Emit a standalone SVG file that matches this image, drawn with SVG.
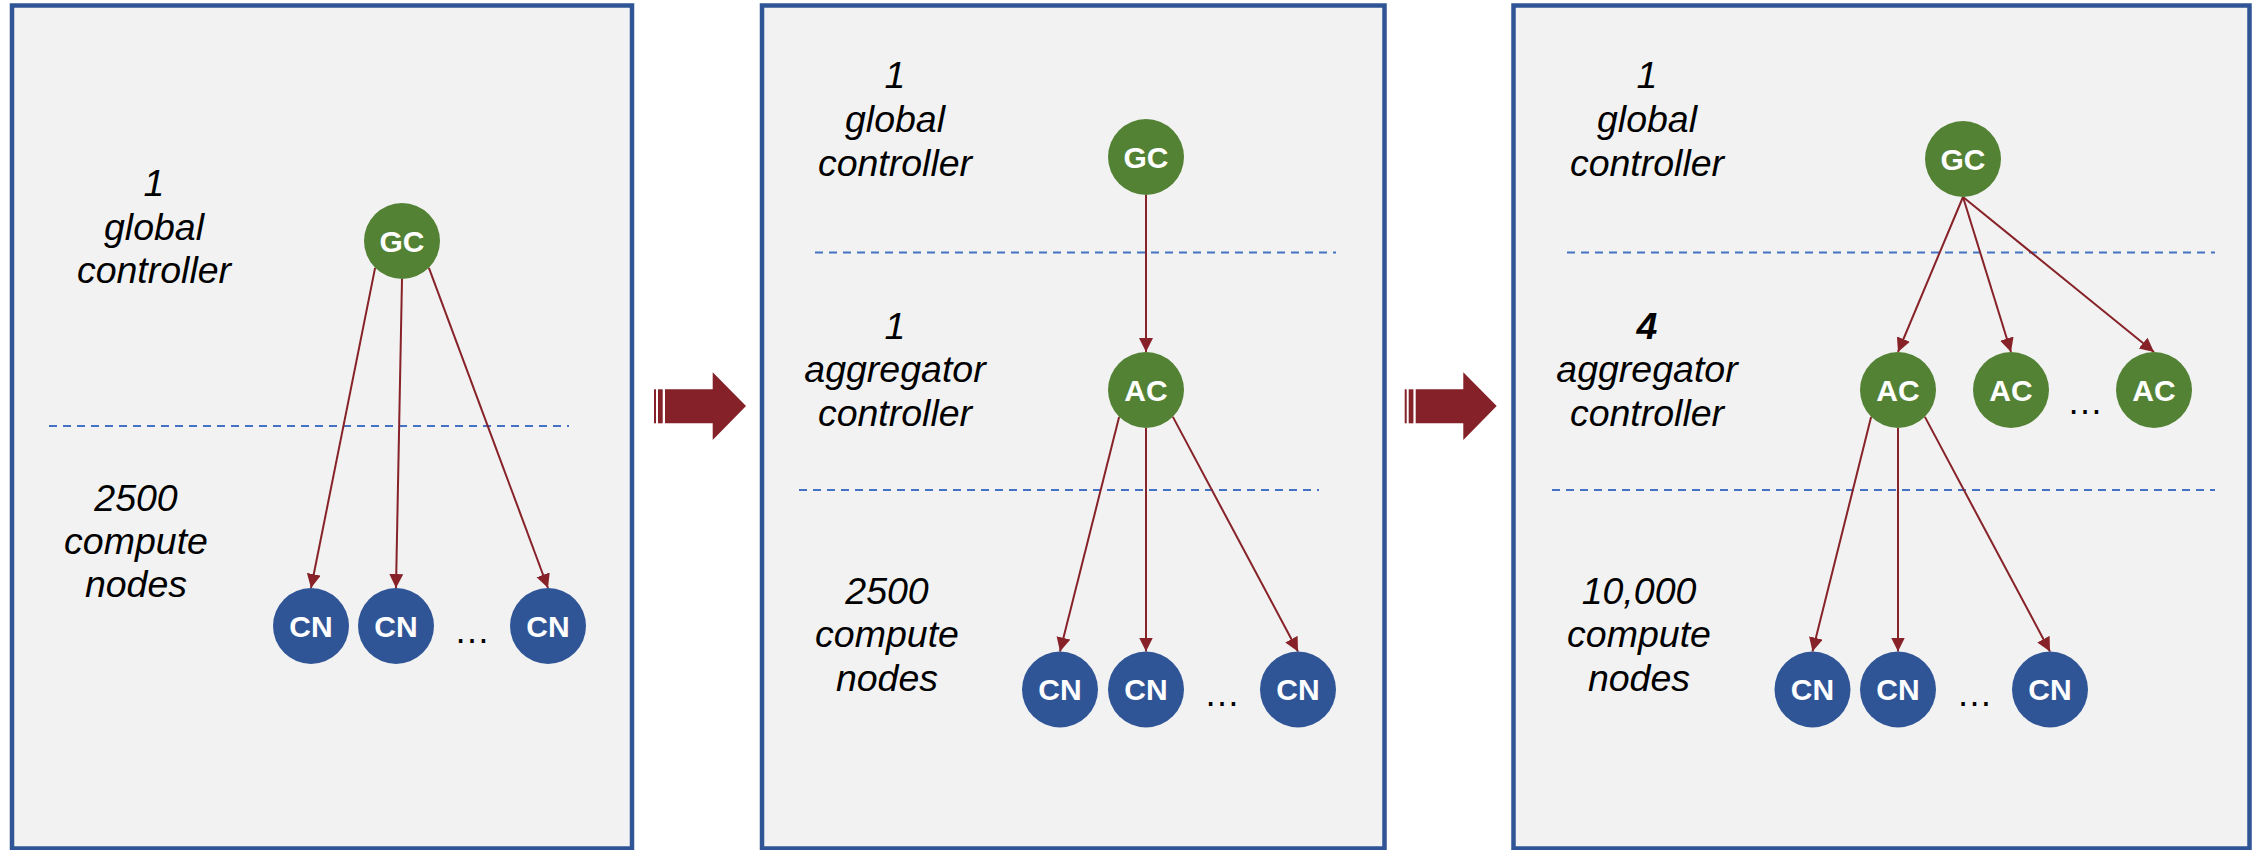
<svg xmlns="http://www.w3.org/2000/svg" width="2257" height="850" viewBox="0 0 2257 850">
  <style>
    .panel { fill: #f2f2f2; stroke: #2f5597; stroke-width: 4.5; }
    .tier { stroke: #4472c4; stroke-width: 2; stroke-dasharray: 8 6; fill: none; }
    .lbl { font-family: "Liberation Sans", Arial, sans-serif; font-size: 37.5px; font-style: italic; fill: #000; text-anchor: middle; }
    .dots { font-family: "Liberation Sans", Arial, sans-serif; font-size: 36px; fill: #000; text-anchor: middle; }
    .gc, .ac { fill: #548235; }
    .cn { fill: #2f5597; }
    .nt { font-family: "Liberation Sans", Arial, sans-serif; font-size: 30px; font-weight: bold; fill: #fff; text-anchor: middle; }
    .link { stroke: #862228; stroke-width: 2; fill: none; marker-end: url(#head); }
    .step { fill: #842129; }
  </style>
  <defs>
    <marker id="head" markerUnits="userSpaceOnUse" markerWidth="16" markerHeight="16" refX="14" refY="7" orient="auto">
      <path d="M0,0 L14,7 L0,14 z" fill="#862228"/>
    </marker>
  </defs>

  <rect width="2257" height="850" fill="#ffffff"/>

  <!-- panels -->
  <g id="panels">
    <rect class="panel" x="12" y="5.5" width="620" height="843"/>
    <rect class="panel" x="762" y="5.5" width="622.5" height="843"/>
    <rect class="panel" x="1513.5" y="5.5" width="736" height="843"/>
  </g>

  <!-- tier separators -->
  <g id="separators">
    <line class="tier" x1="49" y1="426" x2="569" y2="426"/>
    <line class="tier" x1="815" y1="252.5" x2="1336" y2="252.5"/>
    <line class="tier" x1="799" y1="490" x2="1319" y2="490"/>
    <line class="tier" x1="1567" y1="252.5" x2="2215" y2="252.5"/>
    <line class="tier" x1="1552" y1="490" x2="2215" y2="490"/>
  </g>

  <!-- step arrows between panels -->
  <g id="steps">
    <rect class="step" x="654" y="389.3" width="2" height="34"/>
    <rect class="step" x="658" y="389.3" width="4.7" height="34"/>
    <polygon class="step" points="665,389.3 712.7,389.3 712.7,372.3 746,406 712.7,440 712.7,423.3 665,423.3"/>
    <rect class="step" x="1404.7" y="389.3" width="2" height="34"/>
    <rect class="step" x="1408.7" y="389.3" width="4.7" height="34"/>
    <polygon class="step" points="1415.7,389.3 1463.3,389.3 1463.3,372.3 1496.7,406 1463.3,440 1463.3,423.3 1415.7,423.3"/>
  </g>

  <!-- tier labels -->
  <g id="labels">
    <text class="lbl" x="154" y="196">1</text>
    <text class="lbl" x="154" y="239.5">global</text>
    <text class="lbl" x="154" y="283">controller</text>
    <text class="lbl" x="136" y="511">2500</text>
    <text class="lbl" x="136" y="554">compute</text>
    <text class="lbl" x="136" y="597">nodes</text>

    <text class="lbl" x="895" y="88">1</text>
    <text class="lbl" x="895" y="132">global</text>
    <text class="lbl" x="895" y="176">controller</text>
    <text class="lbl" x="895" y="339">1</text>
    <text class="lbl" x="895" y="382">aggregator</text>
    <text class="lbl" x="895" y="426">controller</text>
    <text class="lbl" x="887" y="604">2500</text>
    <text class="lbl" x="887" y="647">compute</text>
    <text class="lbl" x="887" y="691">nodes</text>

    <text class="lbl" x="1647" y="88">1</text>
    <text class="lbl" x="1647" y="132">global</text>
    <text class="lbl" x="1647" y="176">controller</text>
    <text class="lbl" x="1647" y="339" font-weight="bold">4</text>
    <text class="lbl" x="1647" y="382">aggregator</text>
    <text class="lbl" x="1647" y="426">controller</text>
    <text class="lbl" x="1639" y="604">10,000</text>
    <text class="lbl" x="1639" y="647">compute</text>
    <text class="lbl" x="1639" y="691">nodes</text>

    <text class="dots" x="472" y="643">…</text>
    <text class="dots" x="1222" y="706">…</text>
    <text class="dots" x="2085" y="414">…</text>
    <text class="dots" x="1974.5" y="706">…</text>
  </g>

  <!-- connectors -->
  <g id="connectors">
    <line class="link" x1="375.1" y1="267.9" x2="311" y2="588"/>
    <line class="link" x1="402" y1="279" x2="396" y2="588"/>
    <line class="link" x1="428.9" y1="267.9" x2="548" y2="588"/>

    <line class="link" x1="1146" y1="195" x2="1146" y2="352"/>
    <line class="link" x1="1119.1" y1="416.9" x2="1060" y2="651.5"/>
    <line class="link" x1="1146" y1="428" x2="1146" y2="651.5"/>
    <line class="link" x1="1172.9" y1="416.9" x2="1298" y2="651.5"/>

    <line class="link" x1="1963" y1="197" x2="1898" y2="352"/>
    <line class="link" x1="1963" y1="197" x2="2011" y2="352"/>
    <line class="link" x1="1963" y1="197" x2="2154" y2="352"/>
    <line class="link" x1="1871.1" y1="416.9" x2="1812.5" y2="651.5"/>
    <line class="link" x1="1898" y1="428" x2="1898" y2="651.5"/>
    <line class="link" x1="1924.9" y1="416.9" x2="2050" y2="651.5"/>
  </g>

  <!-- panel 1 nodes -->
  <g id="p1-gc"><circle class="gc" cx="402" cy="241" r="38"/><text class="nt" x="402" y="251.5">GC</text></g>
  <g id="p1-cn1"><circle class="cn" cx="311" cy="626" r="38"/><text class="nt" x="311" y="636.5">CN</text></g>
  <g id="p1-cn2"><circle class="cn" cx="396" cy="626" r="38"/><text class="nt" x="396" y="636.5">CN</text></g>
  <g id="p1-cn3"><circle class="cn" cx="548" cy="626" r="38"/><text class="nt" x="548" y="636.5">CN</text></g>

  <!-- panel 2 nodes -->
  <g id="p2-gc"><circle class="gc" cx="1146" cy="157" r="38"/><text class="nt" x="1146" y="167.5">GC</text></g>
  <g id="p2-ac"><circle class="ac" cx="1146" cy="390" r="38"/><text class="nt" x="1146" y="400.5">AC</text></g>
  <g id="p2-cn1"><circle class="cn" cx="1060" cy="689.5" r="38"/><text class="nt" x="1060" y="700">CN</text></g>
  <g id="p2-cn2"><circle class="cn" cx="1146" cy="689.5" r="38"/><text class="nt" x="1146" y="700">CN</text></g>
  <g id="p2-cn3"><circle class="cn" cx="1298" cy="689.5" r="38"/><text class="nt" x="1298" y="700">CN</text></g>

  <!-- panel 3 nodes -->
  <g id="p3-gc"><circle class="gc" cx="1963" cy="159" r="38"/><text class="nt" x="1963" y="169.5">GC</text></g>
  <g id="p3-ac1"><circle class="ac" cx="1898" cy="390" r="38"/><text class="nt" x="1898" y="400.5">AC</text></g>
  <g id="p3-ac2"><circle class="ac" cx="2011" cy="390" r="38"/><text class="nt" x="2011" y="400.5">AC</text></g>
  <g id="p3-ac3"><circle class="ac" cx="2154" cy="390" r="38"/><text class="nt" x="2154" y="400.5">AC</text></g>
  <g id="p3-cn1"><circle class="cn" cx="1812.5" cy="689.5" r="38"/><text class="nt" x="1812.5" y="700">CN</text></g>
  <g id="p3-cn2"><circle class="cn" cx="1898" cy="689.5" r="38"/><text class="nt" x="1898" y="700">CN</text></g>
  <g id="p3-cn3"><circle class="cn" cx="2050" cy="689.5" r="38"/><text class="nt" x="2050" y="700">CN</text></g>
</svg>
